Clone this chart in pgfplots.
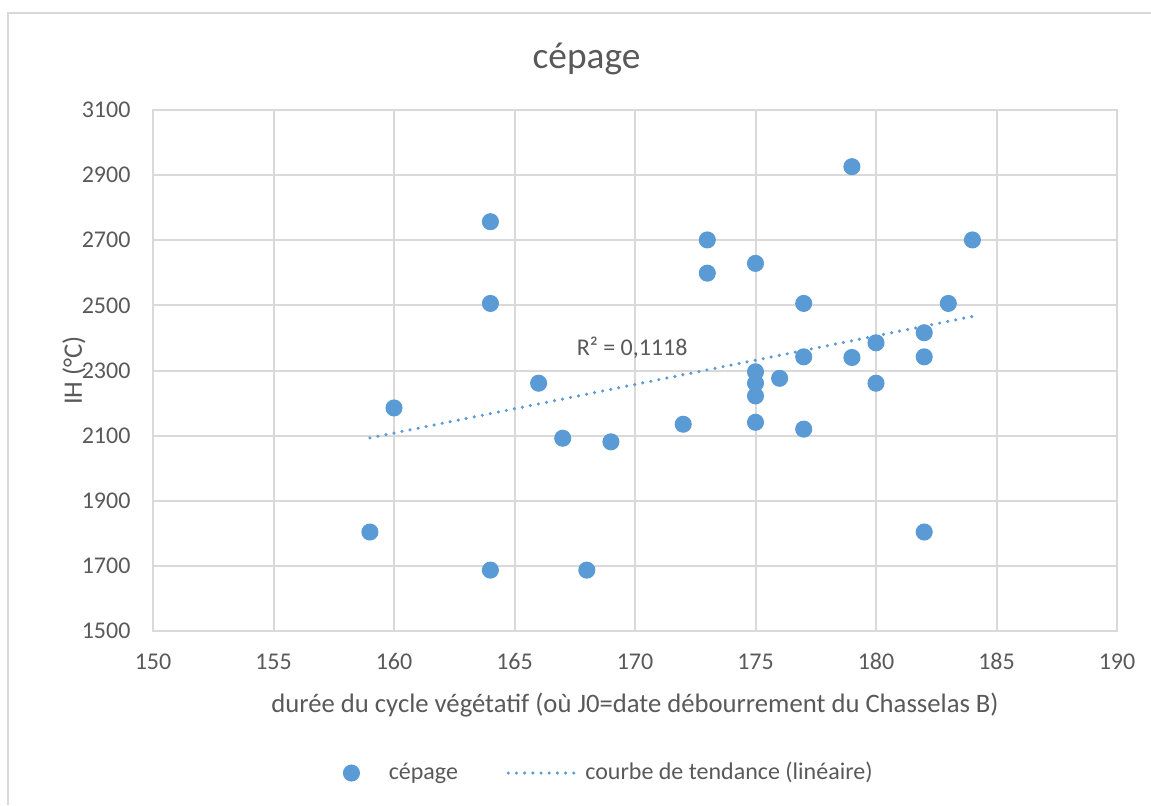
\documentclass[border=0pt]{standalone}
\usepackage{fontspec}
\setmainfont{Carlito}
\usepackage{pgfplots}
\pgfplotsset{compat=1.18}
\definecolor{txt}{HTML}{595959}
\definecolor{grd}{HTML}{D9D9D9}
\definecolor{blu}{HTML}{5B9BD5}
\begin{document}
\begin{tikzpicture}[x=0.375pt,y=0.375pt]
\begin{axis}[
  name=ax,
  scale only axis, width=361.5pt, height=195.375pt,
  xmin=150, xmax=190, ymin=1500, ymax=3100,
  xtick={150,155,...,190}, ytick={1500,1700,...,3100},
  grid=major, major grid style={grd,line width=0.75pt},
  axis line style={grd,line width=0.75pt},
  major tick length=0pt,
  tick label style={font=\fontsize{9}{11}\selectfont, text=txt},
  /pgf/number format/assume math mode=true,
  /pgf/number format/1000 sep={},
  xticklabel style={anchor=base, inner sep=0pt, yshift=-14.6pt},
  yticklabel style={anchor=east, inner sep=0pt, xshift=-8.25pt},
  xlabel={durée du cycle végétatif (où J0=date débourrement du Chasselas B)},
  ylabel={IH (°C)},
  xlabel style={at={(axis description cs:0.5,-0.1555)}, anchor=base, font=\fontsize{10}{12}\selectfont, text=txt},
  ylabel style={at={(axis description cs:-0.0739,0.5)}, anchor=base, font=\fontsize{10}{12}\selectfont, text=txt},
  title={cépage},
  title style={at={(axis description cs:0.4497,1.0806)}, anchor=base, yshift=-6pt, font=\fontsize{14}{17}\selectfont, text=txt},
  legend columns=2,
  legend cell align=left,
  legend style={at={(axis description cs:0.1818,-0.2726)}, anchor=west, draw=none, fill=none, inner sep=0pt,
    font=\fontsize{9}{11}\selectfont, text=txt,
    /tikz/every even column/.append style={column sep=16.2pt}},
]
\addlegendimage{legend image code/.code={\path[draw=none,fill=none] (0pt,0pt) -- (20.5pt,0pt); \fill[blu] (8.5pt,0pt) circle (3pt);}}
\addlegendentry{cépage}
\addlegendimage{legend image code/.code={\draw[blu, line width=1.3pt, dash pattern=on 0pt off 3.07pt, line cap=round] (0pt,0pt) -- (26.25pt,0pt);}}
\addlegendentry{courbe de tendance (linéaire)}
\addplot[only marks, mark=*, mark size=3pt, color=blu, mark options={draw=blu, fill=blu}, forget plot]
  table[row sep=\\] {
x y\\
159 1804\\
160 2185\\
164 2757\\
164 2506\\
164 1687\\
166 2261\\
167 2092\\
168 1687\\
169 2081\\
172 2135\\
173 2701\\
173 2599\\
175 2629\\
175 2296\\
175 2261\\
175 2222\\
175 2141\\
176 2276\\
177 2506\\
177 2342\\
177 2120\\
179 2926\\
179 2340\\
180 2385\\
180 2261\\
182 2416\\
182 2342\\
182 1804\\
183 2506\\
184 2701\\
};
\addplot[color=blu, line width=1.3pt, dash pattern=on 0pt off 3.07pt, line cap=round, forget plot]
  coordinates {(159,2093) (184,2466)};
\node[font=\fontsize{9}{11}\selectfont, text=txt] at (axis cs:169.88,2369) {R² = 0,1118};
\end{axis}
\begin{scope}[shift={(ax.south west)}]
\draw[grd,line width=0.75pt] (-144.5,-174) -- (-144.5,618.5) -- (998,618.5);
\pgfresetboundingbox
\useasboundingbox (-153,-174) rectangle (998,631);
\end{scope}
\end{tikzpicture}
\end{document}
